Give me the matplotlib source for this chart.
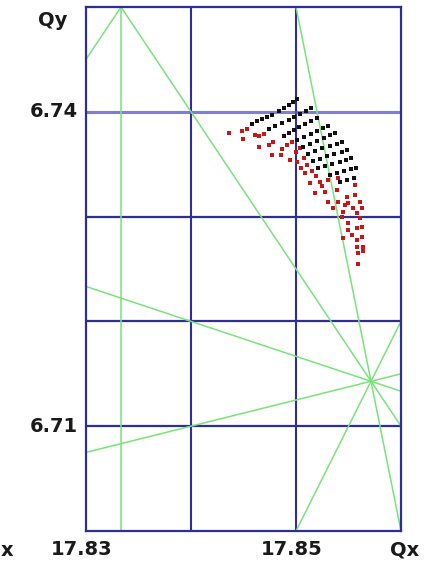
import matplotlib
matplotlib.use("Agg")
import matplotlib.pyplot as plt

# Axis ranges / ticks
x_range = [17.83, 17.86]
y_range = [6.70, 6.75]
x_grid = [17.84, 17.85]
y_grid = [6.71, 6.72, 6.73, 6.74]
x_ticks = [17.83, 17.85]
x_tick_labels = ["17.83", "17.85"]
y_ticks = [6.74, 6.71]
y_tick_labels = ["6.74", "6.71"]

# Resonance lines  a*Qx + b*Qy = n
res_a = [6, 3, 3, 5, 2, 1, 1]
res_b = [0, -2, 2, 1, -1, 3, -4]
res_n = [107, 40, 67, 96, 29, 38, -9]

# Black footprint points
black_qx = [
    17.84581, 17.84629, 17.84676, 17.84724, 17.84771, 17.84838, 17.84886, 17.84933, 17.84971, 17.85010,
    17.84743, 17.84800, 17.84867, 17.84933, 17.84981, 17.85038, 17.85095, 17.85143,
    17.84886, 17.84933, 17.84981, 17.85029, 17.85086, 17.85143, 17.85200,
    17.85010, 17.85076, 17.85143, 17.85200, 17.85257, 17.85305,
    17.85067, 17.85133, 17.85200, 17.85267, 17.85324, 17.85371,
    17.85114, 17.85181, 17.85248, 17.85324, 17.85390, 17.85438,
    17.85162, 17.85229, 17.85295, 17.85362, 17.85438, 17.85486,
    17.85210, 17.85276, 17.85343, 17.85419, 17.85476, 17.85524,
    17.85324, 17.85390, 17.85457, 17.85524, 17.85571,
    17.85419, 17.85486, 17.85552,
]
black_qy = [
    6.73886, 6.73914, 6.73933, 6.73952, 6.73971, 6.74010, 6.74038, 6.74067, 6.74095, 6.74124,
    6.73838, 6.73867, 6.73895, 6.73924, 6.73952, 6.73981, 6.74010, 6.74038,
    6.73771, 6.73800, 6.73829, 6.73857, 6.73886, 6.73914, 6.73943,
    6.73733, 6.73762, 6.73790, 6.73819, 6.73848, 6.73867,
    6.73667, 6.73695, 6.73724, 6.73752, 6.73781, 6.73800,
    6.73600, 6.73629, 6.73657, 6.73676, 6.73695, 6.73714,
    6.73533, 6.73552, 6.73581, 6.73600, 6.73619, 6.73638,
    6.73467, 6.73486, 6.73505, 6.73524, 6.73543, 6.73562,
    6.73400, 6.73419, 6.73438, 6.73457, 6.73467,
    6.73333, 6.73352, 6.73371,
]

# Red footprint points
red_qx = [
    17.84362, 17.84486, 17.84495, 17.84533, 17.84610, 17.84648, 17.84695, 17.84648,
    17.84743, 17.84781, 17.84771, 17.84857, 17.84867, 17.84914, 17.84943, 17.84962,
    17.85000, 17.85038, 17.85010, 17.85076, 17.85048, 17.85105, 17.85086, 17.85152,
    17.85190, 17.85133, 17.85229, 17.85305, 17.85400, 17.85248, 17.85181, 17.85276,
    17.85390, 17.85486, 17.85562, 17.85562, 17.85305, 17.85400, 17.85495, 17.85610,
    17.85467, 17.85352, 17.85448, 17.85543, 17.85629, 17.85438, 17.85581, 17.85495,
    17.85610, 17.85495, 17.85581, 17.85629, 17.85533, 17.85581, 17.85629, 17.85448,
    17.85581, 17.85638, 17.85590, 17.85638, 17.85590,
]
red_qy = [
    6.73800, 6.73819, 6.73743, 6.73838, 6.73781, 6.73771, 6.73790, 6.73667,
    6.73686, 6.73714, 6.73590, 6.73590, 6.73648, 6.73686, 6.73543, 6.73714,
    6.73619, 6.73657, 6.73524, 6.73562, 6.73467, 6.73495, 6.73419, 6.73438,
    6.73390, 6.73324, 6.73333, 6.73352, 6.73371, 6.73295, 6.73229, 6.73238,
    6.73257, 6.73190, 6.73210, 6.73305, 6.73143, 6.73143, 6.73133, 6.73143,
    6.73114, 6.73086, 6.73048, 6.73086, 6.73086, 6.73000, 6.73038, 6.72943,
    6.72990, 6.72876, 6.72895, 6.72905, 6.72829, 6.72781, 6.72810, 6.72800,
    6.72714, 6.72714, 6.72657, 6.72667, 6.72543,
]

W, H = 433, 568
fig = plt.figure(figsize=(W / 100, H / 100), dpi=100)
ax = fig.add_axes([86 / W, 1 - 531 / H, 315 / W, 524 / H])
ax.set_xlim(x_range)
ax.set_ylim(y_range)

frame_col = "#2e2e96"
hgrid_col = "#5454bb"
green = "#7be27b"

for x in x_grid:
    ax.axvline(x, color=frame_col, lw=1.5, zorder=1)
for y in y_grid:
    ax.axhline(y, color=hgrid_col if y == 6.74 else frame_col,
               lw=2.2 if y == 6.74 else 1.6, alpha=0.75 if y == 6.74 else 1.0, zorder=1)

for a, b, n in zip(res_a, res_b, res_n):
    if b == 0:
        ax.axvline(n / a, color=green, lw=1.1, zorder=2)
    else:
        x0 = x_range[0]
        ax.axline((x0, (n - a * x0) / b), slope=-a / b, color=green, lw=1.1, zorder=2)

ax.plot(red_qx, red_qy, ls="none", marker="s", ms=2.2, color="#c41818", mew=0, zorder=3)
ax.plot(black_qx, black_qy, ls="none", marker="s", ms=2.2, color="#111111", mew=0, zorder=4)

for s in ax.spines.values():
    s.set_color(frame_col)
    s.set_linewidth(1.6)

ax.set_xticks([])
ax.set_yticks([])

fkw = dict(fontsize=14, fontweight="bold", color="#1a1a1a", family="DejaVu Sans")
for xv, lab in zip(x_ticks, x_tick_labels):
    ax.text(xv - 0.0004, y_range[0] - 0.0009, lab, ha="center", va="top",
            clip_on=False, **fkw)
for yv, lab in zip(y_ticks, y_tick_labels):
    ax.text(x_range[0] - 0.0008, yv, lab, ha="right", va="center", clip_on=False, **fkw)

fig.text(405 / W, 1 - 550 / H, "Qx", ha="center", va="center", **fkw)
fig.text(53 / W, 1 - 21 / H, "Qy", ha="center", va="center", **fkw)
fig.text(1 / W, 1 - 551 / H, "x", ha="left", va="center", **fkw)

fig.savefig("out.png", dpi=100)
